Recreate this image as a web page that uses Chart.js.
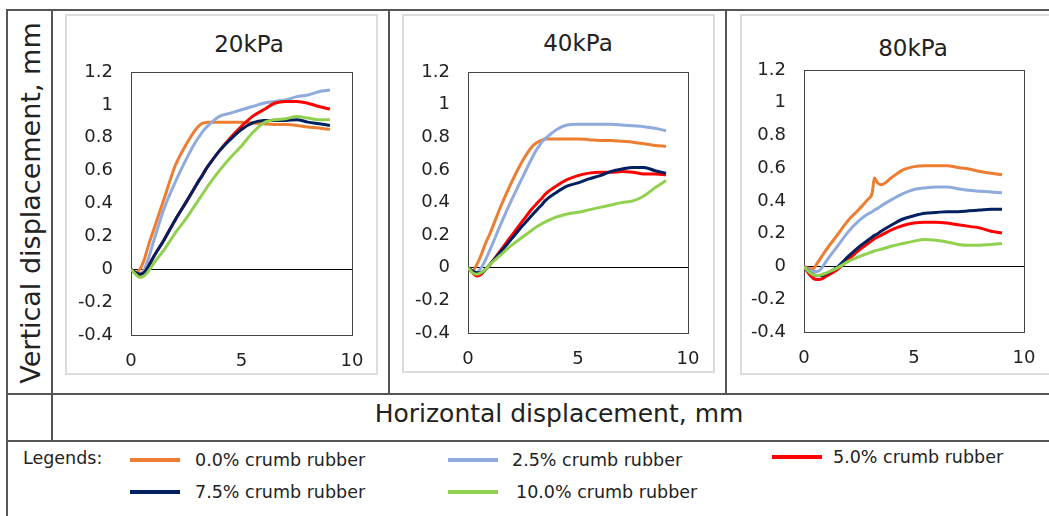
<!DOCTYPE html>
<html>
<head>
<meta charset="utf-8">
<script src="https://cdn.jsdelivr.net/npm/chart.js@4.4.1/dist/chart.umd.min.js"></script>
<style>
  body { margin: 0; background: #fff; font-family: "DejaVu Sans", Verdana, sans-serif; color: #222; }
  #page { position: relative; width: 1049px; height: 516px; overflow: hidden; }
  .ln { position: absolute; background: #555; }
  .box { position: absolute; border: 2px solid #dcdcdc; box-sizing: border-box; }
  .ttl { position: absolute; font-size: 23px; transform: translate(-50%, -50%); white-space: nowrap; }
  .lg { position: absolute; font-size: 17.5px; transform: translateY(-50%); white-space: nowrap; }
  .sw { position: absolute; height: 4px; width: 50px; transform: translateY(-50%); }
  canvas { position: absolute; }
</style>
</head>
<body>
<div id="page"></div>
<script>
// horizontal displacement (mm), shared by every series
const xs = [0, 0.2, 0.4, 0.6, 0.8, 1, 1.5, 2, 2.5, 2.9, 3.1, 3.2, 3.35, 3.5, 4, 4.5, 5, 5.5, 6, 6.5, 7, 7.5, 8, 8.5, 9];

const labels = ["0.0% crumb rubber", "2.5% crumb rubber", "5.0% crumb rubber", "7.5% crumb rubber", "10.0% crumb rubber"];
const colors = ["#ED7D31", "#8FAADC", "#FF0000", "#002060", "#92D050"];
const titles = ["20kPa", "40kPa", "80kPa"];
const yTicks = [-0.4, 1.2, 0.2];
const xTicks = [0, 10, 5];

// vertical displacement (mm) at 20kPa
const kpa20_00 = [0, -0.02, 0.0, 0.06, 0.15, 0.23, 0.43, 0.63, 0.76, 0.845, 0.875, 0.885, 0.892, 0.895, 0.895, 0.895, 0.895, 0.89, 0.885, 0.88, 0.88, 0.875, 0.865, 0.86, 0.85];
const kpa20_25 = [0, -0.02, -0.03, 0.0, 0.07, 0.16, 0.37, 0.53, 0.67, 0.77, 0.81, 0.83, 0.855, 0.875, 0.93, 0.95, 0.97, 0.99, 1.01, 1.02, 1.03, 1.05, 1.06, 1.08, 1.09];
const kpa20_50 = [0, -0.02, -0.03, -0.02, 0.02, 0.07, 0.18, 0.3, 0.41, 0.5, 0.545, 0.565, 0.6, 0.63, 0.72, 0.8, 0.87, 0.93, 0.97, 1.01, 1.02, 1.02, 1.01, 0.99, 0.975];
const kpa20_75 = [0, -0.02, -0.03, -0.02, 0.02, 0.07, 0.18, 0.3, 0.41, 0.5, 0.545, 0.565, 0.6, 0.63, 0.72, 0.79, 0.85, 0.89, 0.905, 0.905, 0.905, 0.91, 0.895, 0.885, 0.875];
const kpa20_100 = [0, -0.03, -0.05, -0.04, -0.01, 0.03, 0.12, 0.22, 0.31, 0.39, 0.43, 0.45, 0.48, 0.51, 0.6, 0.68, 0.75, 0.83, 0.89, 0.91, 0.915, 0.93, 0.92, 0.91, 0.91];

// 40kPa
const kpa40_00 = [0, -0.02, 0.02, 0.08, 0.15, 0.21, 0.38, 0.53, 0.66, 0.74, 0.765, 0.772, 0.782, 0.79, 0.79, 0.79, 0.79, 0.785, 0.78, 0.78, 0.775, 0.77, 0.76, 0.75, 0.745];
const kpa40_25 = [0, -0.02, -0.03, 0.0, 0.05, 0.11, 0.27, 0.42, 0.56, 0.67, 0.72, 0.74, 0.77, 0.79, 0.845, 0.875, 0.88, 0.88, 0.88, 0.88, 0.875, 0.87, 0.865, 0.855, 0.84];
const kpa40_50 = [0, -0.03, -0.05, -0.04, -0.01, 0.02, 0.11, 0.2, 0.29, 0.36, 0.39, 0.405, 0.425, 0.45, 0.5, 0.54, 0.565, 0.58, 0.585, 0.585, 0.59, 0.585, 0.575, 0.575, 0.57];
const kpa40_75 = [0, -0.02, -0.03, -0.03, -0.01, 0.02, 0.1, 0.18, 0.26, 0.32, 0.35, 0.365, 0.385, 0.41, 0.46, 0.5, 0.52, 0.545, 0.565, 0.59, 0.605, 0.615, 0.615, 0.595, 0.58];
const kpa40_100 = [0, -0.03, -0.04, -0.03, -0.01, 0.02, 0.08, 0.14, 0.19, 0.23, 0.25, 0.257, 0.27, 0.28, 0.31, 0.33, 0.34, 0.355, 0.37, 0.385, 0.4, 0.41, 0.44, 0.49, 0.535];

// 80kPa
const kpa80_00 = [0, -0.01, -0.015, 0.02, 0.06, 0.1, 0.19, 0.28, 0.35, 0.41, 0.45, 0.54, 0.51, 0.5, 0.545, 0.59, 0.61, 0.615, 0.615, 0.615, 0.605, 0.595, 0.58, 0.57, 0.56];
const kpa80_25 = [0, -0.02, -0.03, -0.03, -0.01, 0.03, 0.12, 0.21, 0.28, 0.32, 0.335, 0.345, 0.355, 0.37, 0.41, 0.445, 0.47, 0.48, 0.485, 0.485, 0.475, 0.465, 0.46, 0.455, 0.45];
const kpa80_50 = [0, -0.04, -0.07, -0.08, -0.075, -0.06, -0.02, 0.04, 0.1, 0.14, 0.16, 0.17, 0.18, 0.19, 0.225, 0.25, 0.265, 0.27, 0.27, 0.265, 0.255, 0.245, 0.235, 0.215, 0.205];
const kpa80_75 = [0, -0.03, -0.05, -0.055, -0.055, -0.045, -0.005, 0.06, 0.12, 0.16, 0.18, 0.19, 0.2, 0.215, 0.255, 0.29, 0.31, 0.325, 0.33, 0.335, 0.335, 0.34, 0.345, 0.35, 0.35];
const kpa80_100 = [0, -0.03, -0.05, -0.055, -0.05, -0.04, -0.01, 0.03, 0.06, 0.08, 0.09, 0.095, 0.1, 0.105, 0.125, 0.14, 0.155, 0.165, 0.16, 0.15, 0.135, 0.13, 0.13, 0.135, 0.14];

const panelSeries = [
  [kpa20_00, kpa20_25, kpa20_50, kpa20_75, kpa20_100],
  [kpa40_00, kpa40_25, kpa40_50, kpa40_75, kpa40_100],
  [kpa80_00, kpa80_25, kpa80_50, kpa80_75, kpa80_100]
];

// layout: plot areas [left, top, right, bottom], chart frames, titles
const plots = [[131, 72, 352, 335], [468, 72, 688, 333], [804, 70, 1024, 332]];
const frames = [[65, 14, 313, 361], [402, 14, 313, 359], [740, 14, 330, 361]];
const titlePos = [[249, 44], [578, 43], [913, 48]];

const page = document.getElementById("page");
function add(cls, css, text) {
  const d = document.createElement("div");
  d.className = cls;
  Object.assign(d.style, css);
  if (text) d.textContent = text;
  page.appendChild(d);
  return d;
}

// table grid
add("ln", {left: "7px", top: "9px", width: "1042px", height: "2px"});
add("ln", {left: "6px", top: "9px", width: "2px", height: "507px"});
add("ln", {left: "51px", top: "9px", width: "2px", height: "432px"});
add("ln", {left: "388px", top: "9px", width: "2px", height: "386px"});
add("ln", {left: "725px", top: "9px", width: "2px", height: "386px"});
add("ln", {left: "7px", top: "393px", width: "1042px", height: "2px"});
add("ln", {left: "7px", top: "440px", width: "1042px", height: "2px"});

frames.forEach(f => add("box", {left: f[0] + "px", top: f[1] + "px", width: f[2] + "px", height: f[3] + "px"}));
titles.forEach((t, i) => add("ttl", {left: titlePos[i][0] + "px", top: titlePos[i][1] + "px"}, t));

add("ttl", {left: "30px", top: "203px", fontSize: "27px", transform: "translate(-50%, -50%) rotate(-90deg)"}, "Vertical displacement, mm");
add("ttl", {left: "559px", top: "413px", fontSize: "25px"}, "Horizontal displacement, mm");

// legend
add("lg", {left: "23px", top: "458px"}, "Legends:");
const legendPos = [[130, 460, 195], [448, 460, 512], [772, 457, 833], [130, 492, 195], [448, 492, 516]];
labels.forEach((l, i) => {
  const p = legendPos[i];
  add("sw", {left: p[0] + "px", top: p[1] + "px", background: colors[i]});
  add("lg", {left: p[2] + "px", top: p[1] + "px"}, l);
});

const plotBox = {
  id: "plotBox",
  beforeDatasetsDraw(chart) {
    const a = chart.chartArea, c = chart.ctx;
    c.save();
    c.strokeStyle = "#444";
    c.lineWidth = 1;
    c.strokeRect(Math.round(a.left) + 0.5, Math.round(a.top) + 0.5, Math.round(a.right - a.left), Math.round(a.bottom - a.top));
    c.restore();
  }
};

const YW = 60, XH = 45, PT = 14, PR = 25;
plots.forEach((p, k) => {
  const cv = document.createElement("canvas");
  const w = p[2] - p[0] + YW + PR, h = p[3] - p[1] + PT + XH;
  cv.width = w; cv.height = h;
  cv.style.left = (p[0] - YW) + "px";
  cv.style.top = (p[1] - PT) + "px";
  page.appendChild(cv);

  const datasets = panelSeries[k].map((ys, i) => ({
    label: labels[i],
    data: xs.map((x, j) => ({x: x, y: ys[j]})),
    borderColor: colors[i],
    backgroundColor: colors[i],
    borderWidth: 3,
    pointRadius: 0,
    cubicInterpolationMode: "monotone",
    order: labels.length - i
  }));

  new Chart(cv.getContext("2d"), {
    type: "line",
    data: {datasets: datasets},
    options: {
      responsive: false,
      animation: false,
      devicePixelRatio: 1,
      layout: {padding: {top: PT, right: PR, left: 0, bottom: 0}},
      plugins: {legend: {display: false}, tooltip: {enabled: false}},
      scales: {
        x: {
          type: "linear",
          min: xTicks[0], max: xTicks[1],
          ticks: {stepSize: xTicks[2], padding: 16, color: "#222", font: {family: "DejaVu Sans", size: 18}, maxRotation: 0},
          grid: {display: false, drawTicks: false},
          border: {display: false},
          afterFit(s) { s.height = XH; s.paddingLeft = 0; s.paddingRight = 0; }
        },
        y: {
          min: yTicks[0], max: yTicks[1],
          ticks: {
            stepSize: yTicks[2], padding: 18, color: "#222", font: {family: "DejaVu Sans", size: 18},
            callback: v => String(Math.round(v * 10) / 10)
          },
          grid: {drawTicks: false, lineWidth: 1, color: c => (Math.abs(c.tick.value) < 1e-9 ? "#000" : "rgba(0,0,0,0)")},
          border: {display: false},
          afterFit(s) { s.width = YW; s.paddingTop = 0; s.paddingBottom = 0; }
        }
      }
    },
    plugins: [plotBox]
  });
});
</script>
</body>
</html>
